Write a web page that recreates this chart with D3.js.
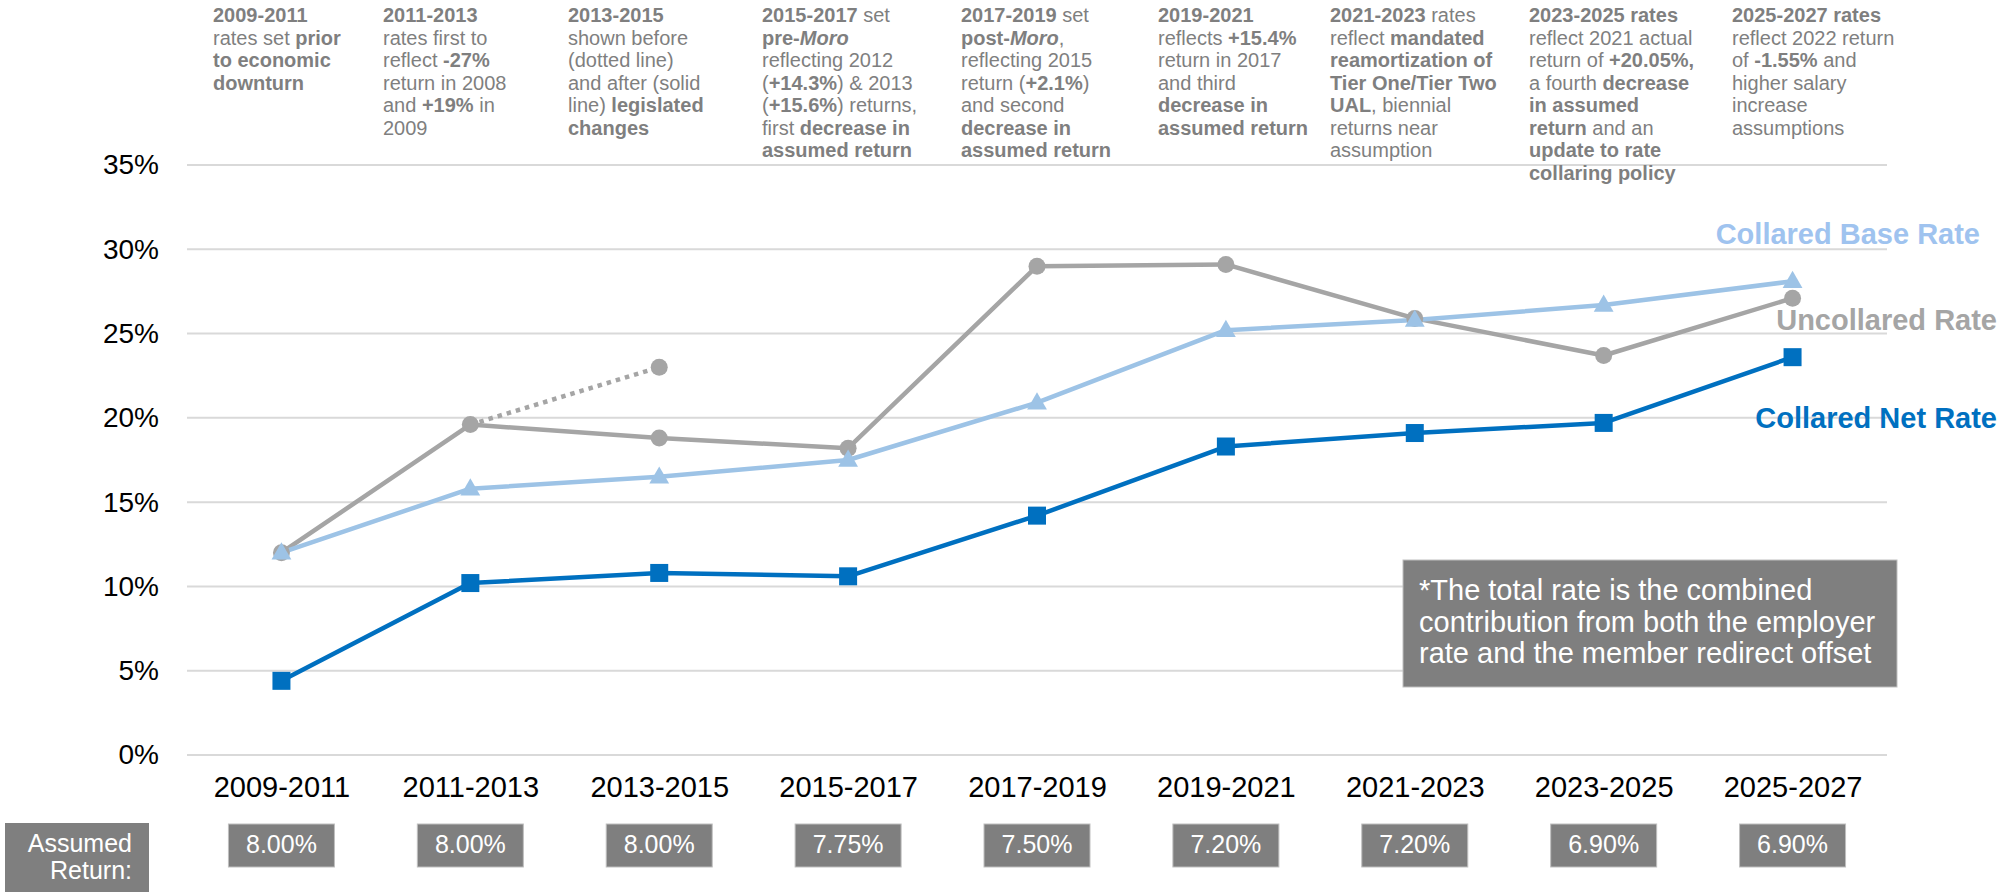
<!DOCTYPE html>
<html>
<head>
<meta charset="utf-8">
<script src="https://cdn.jsdelivr.net/npm/d3@7"></script>
<style>
  html, body { margin: 0; padding: 0; background: #fff; }
  svg { display: block; font-family: "Liberation Sans", Arial, Helvetica, sans-serif; }
</style>
</head>
<body>
<svg id="chart" width="2002" height="892"></svg>
<script>
// Contribution-rate periods (biennia)
const periods = ["2009-2011", "2011-2013", "2013-2015", "2015-2017", "2017-2019",
                 "2019-2021", "2021-2023", "2023-2025", "2025-2027"];

// Rates, in percent of payroll
const uncollaredRate   = [12.0, 19.6, 18.8, 18.2, 29.0, 29.1, 25.9, 23.7, 27.1];
const collaredBaseRate = [12.0, 15.8, 16.5, 17.5, 20.9, 25.2, 25.8, 26.7, 28.1];
const collaredNetRate  = [4.4, 10.2, 10.8, 10.6, 14.2, 18.3, 19.1, 19.7, 23.6];
// 2013-2015 uncollared rate as computed before the legislated changes
const preLegislationRate = [null, 19.6, 23.0, null, null, null, null, null, null];

// Assumed investment return for each period
const assumedReturn = ["8.00%", "8.00%", "8.00%", "7.75%", "7.50%", "7.20%", "7.20%", "6.90%", "6.90%"];

const yTicks = [0, 5, 10, 15, 20, 25, 30, 35];

const seriesLabels = ["Collared Base Rate", "Uncollared Rate", "Collared Net Rate"];

// Period commentary; **bold**, _italic_
const periodNotes = [
  ["**2009-2011**", "rates set **prior**", "**to economic**", "**downturn**"],
  ["**2011-2013**", "rates first to", "reflect **-27%**", "return in 2008", "and **+19%** in", "2009"],
  ["**2013-2015**", "shown before", "(dotted line)", "and after (solid", "line) **legislated**", "**changes**"],
  ["**2015-2017** set", "**pre-_Moro_**", "reflecting 2012", "(**+14.3%**) & 2013", "(**+15.6%**) returns,", "first **decrease in**", "**assumed return**"],
  ["**2017-2019** set", "**post-_Moro_**,", "reflecting 2015", "return (**+2.1%**)", "and second", "**decrease in**", "**assumed return**"],
  ["**2019-2021**", "reflects **+15.4%**", "return in 2017", "and third", "**decrease in**", "**assumed return**"],
  ["**2021-2023** rates", "reflect **mandated**", "**reamortization of**", "**Tier One/Tier Two**", "**UAL**, biennial", "returns near", "assumption"],
  ["**2023-2025 rates**", "reflect 2021 actual", "return of **+20.05%,**", "a fourth **decrease**", "**in assumed**", "**return** and an", "**update to rate**", "**collaring policy**"],
  ["**2025-2027 rates**", "reflect 2022 return", "of **-1.55%** and", "higher salary", "increase", "assumptions"]
];
const noteLefts = [213, 383, 568, 762, 961, 1158, 1330, 1529, 1732];

const footnote = ["*The total rate is the combined",
                  "contribution from both the employer",
                  "rate and the member redirect offset"];

const colors = { uncollared: "#a5a5a5", base: "#9dc3e6", net: "#0070c0" };

const svg = d3.select("#chart");
svg.append("rect").attr("width", 2002).attr("height", 892).attr("fill", "#fff");

const x = d3.scalePoint().domain(periods).range([187, 1887]).padding(0.5);
const y = d3.scaleLinear().domain([0, 35]).range([755, 165]);

// Gridlines and y-axis labels
const yAxis = d3.axisLeft(y).tickValues(yTicks).tickSize(0).tickPadding(0)
  .tickFormat(d => d + "%");
const gy = svg.append("g").attr("transform", "translate(159,0)").call(yAxis);
gy.select(".domain").remove();
gy.selectAll("text").attr("font-size", 28).attr("fill", "#000")
  .attr("font-family", "Liberation Sans, Arial, sans-serif");

svg.append("g").selectAll("line").data(yTicks).join("line")
  .attr("x1", 187).attr("x2", 1887)
  .attr("y1", d => y(d)).attr("y2", d => y(d))
  .attr("stroke", "#d9d9d9").attr("stroke-width", 2);

// Category labels
const xAxis = d3.axisBottom(x).tickSize(0).tickPadding(0);
const gx = svg.append("g").attr("transform", "translate(0,776)").call(xAxis);
gx.select(".domain").remove();
gx.selectAll("text").attr("font-size", 29).attr("fill", "#000").attr("dy", "0.72em")
  .attr("font-family", "Liberation Sans, Arial, sans-serif");

// Rich text helper
function richLine(sel, str) {
  let bold = false, italic = false;
  const parts = str.split(/(\*\*|_)/);
  parts.forEach(p => {
    if (p === "**") { bold = !bold; return; }
    if (p === "_") { italic = !italic; return; }
    if (!p) return;
    sel.append("tspan").text(p)
      .attr("font-weight", bold ? "bold" : "normal")
      .attr("font-style", italic ? "italic" : "normal");
  });
}

// Period commentary across the top
const notesG = svg.append("g").attr("fill", "#7f7f7f").attr("font-size", 20);
periodNotes.forEach((lines, i) => {
  lines.forEach((ln, j) => {
    const t = notesG.append("text").attr("x", noteLefts[i]).attr("y", 22 + j * 22.5)
      .attr("xml:space", "preserve");
    richLine(t, ln);
  });
});

// Series lines
const idx = d3.range(periods.length);
const lineOf = vals => d3.line()
  .defined(i => vals[i] != null)
  .x(i => x(periods[i])).y(i => y(vals[i]))(idx);

svg.append("path").attr("d", lineOf(preLegislationRate)).attr("fill", "none")
  .attr("stroke", colors.uncollared).attr("stroke-width", 4.5)
  .attr("stroke-dasharray", "4.5,5");

svg.append("path").attr("d", lineOf(uncollaredRate)).attr("fill", "none")
  .attr("stroke", colors.uncollared).attr("stroke-width", 4.5).attr("stroke-linejoin", "round");

svg.append("path").attr("d", lineOf(collaredBaseRate)).attr("fill", "none")
  .attr("stroke", colors.base).attr("stroke-width", 4.5).attr("stroke-linejoin", "round");

svg.append("path").attr("d", lineOf(collaredNetRate)).attr("fill", "none")
  .attr("stroke", colors.net).attr("stroke-width", 4.5).attr("stroke-linejoin", "round");

// Markers
const circles = svg.append("g").attr("fill", colors.uncollared);
circles.selectAll("circle").data(idx.filter(i => preLegislationRate[i] != null && i !== 1))
  .join("circle").attr("cx", i => x(periods[i])).attr("cy", i => y(preLegislationRate[i])).attr("r", 8.5);
circles.selectAll(null).data(idx).join("circle")
  .attr("cx", i => x(periods[i])).attr("cy", i => y(uncollaredRate[i])).attr("r", 8.5);

const tri = d3.symbol().type(d3.symbolTriangle).size(170);
svg.append("g").attr("fill", colors.base).selectAll("path").data(idx).join("path")
  .attr("d", tri)
  .attr("transform", i => `translate(${x(periods[i])},${y(collaredBaseRate[i]) + 1})`);

svg.append("g").attr("fill", colors.net).selectAll("rect").data(idx).join("rect")
  .attr("x", i => x(periods[i]) - 9).attr("y", i => y(collaredNetRate[i]) - 9)
  .attr("width", 18).attr("height", 18);

// Series labels
const labelPos = [
  { x: 1980, y: 244, c: "#9fc3ef" },
  { x: 1997, y: 330, c: colors.uncollared },
  { x: 1997, y: 428, c: colors.net }
];
svg.append("g").attr("font-weight", "bold").attr("font-size", 29).attr("text-anchor", "end")
  .selectAll("text").data(seriesLabels).join("text")
  .attr("x", (d, i) => labelPos[i].x).attr("y", (d, i) => labelPos[i].y)
  .attr("fill", (d, i) => labelPos[i].c).text(d => d);

// Footnote box
svg.append("rect").attr("x", 1403).attr("y", 560).attr("width", 494).attr("height", 127)
  .attr("fill", "#7f7f7f").attr("stroke", "#bfbfbf").attr("stroke-width", 1);
svg.append("g").attr("fill", "#fff").attr("font-size", 29)
  .selectAll("text").data(footnote).join("text")
  .attr("x", 1419).attr("y", (d, i) => 600 + i * 31.7).text(d => d);

// Assumed return row
svg.append("rect").attr("x", 5).attr("y", 823).attr("width", 144).attr("height", 69)
  .attr("fill", "#7f7f7f");
svg.append("g").attr("fill", "#fff").attr("font-size", 25).attr("text-anchor", "end")
  .selectAll("text").data(["Assumed", "Return:"]).join("text")
  .attr("x", 132).attr("y", (d, i) => 852 + i * 26.5).text(d => d);

const boxes = svg.append("g");
boxes.selectAll("rect").data(periods).join("rect")
  .attr("x", d => x(d) - 53).attr("y", 824).attr("width", 106).attr("height", 43)
  .attr("fill", "#7f7f7f").attr("stroke", "#bfbfbf").attr("stroke-width", 1);
boxes.selectAll("text").data(periods).join("text")
  .attr("x", d => x(d)).attr("y", 853).attr("text-anchor", "middle")
  .attr("fill", "#fff").attr("font-size", 25)
  .text((d, i) => assumedReturn[i]);
</script>
</body>
</html>
